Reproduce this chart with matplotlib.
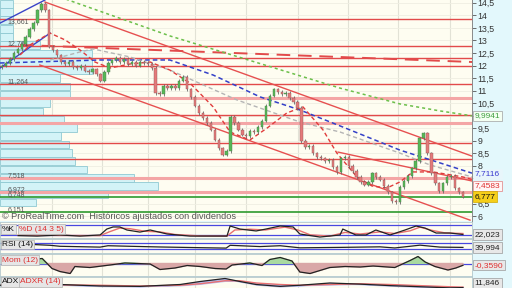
import matplotlib
matplotlib.use("Agg")
import matplotlib.pyplot as plt
import numpy as np

plt.rcParams['font.family'] = ['Liberation Sans', 'DejaVu Sans']

# daily closes (one per session, oldest first)
closes = [12.0, 12.1, 12.25, 12.5, 12.65, 12.85, 13.15, 13.45, 13.7, 14.2,
          14.45, 14.2, 12.75, 12.6, 12.4, 12.15, 12.05, 12.15, 11.95, 11.9,
          12.0, 11.8, 11.75, 11.85, 11.65, 11.4, 11.75, 12.1, 12.2, 12.3,
          12.15, 12.25, 12.05, 12.15, 12.0, 12.15, 12.1, 12.05, 11.9, 10.9,
          10.85, 11.2, 11.1, 11.2, 11.1, 11.4, 11.55, 11.05, 10.75, 10.4,
          10.1, 9.9, 9.7, 9.45, 9.05, 8.7, 8.45, 8.6, 9.95, 9.7,
          9.45, 9.25, 9.2, 9.4, 9.35, 9.55, 9.8, 10.4, 10.8, 11.05,
          10.95, 10.85, 10.9, 10.7, 10.55, 10.3, 9.0, 8.75, 8.8, 8.5,
          8.35, 8.3, 8.2, 8.25, 7.95, 7.75, 8.3, 8.35, 8.0, 7.8,
          7.55, 7.35, 7.25, 7.35, 7.7, 7.55, 7.45, 7.2, 6.95, 6.6,
          6.55, 7.15, 7.4, 7.6, 7.9, 8.2, 9.1, 9.3, 8.5, 7.7,
          7.3, 7.0, 7.3, 7.55, 7.6, 7.1, 6.95, 6.777]
first_open = 11.95
last_price = 6.777

# month separators (session index)
grid_days = [12.7, 25.4, 37.1, 49.0, 61.9, 75.1, 87.8, 100.5, 113.7]

# volume by price
vp_prices = [14.45, 14.13, 13.8, 13.47, 13.14, 12.81, 12.48, 12.15, 11.82, 11.49,
             11.16, 10.83, 10.5, 10.17, 9.84, 9.51, 9.18, 8.85, 8.52, 8.19,
             7.86, 7.53, 7.2, 6.87, 6.54]
vp_volume = [13, 13, 13, 13, 13, 40, 92, 92, 92, 60,
             70, 70, 50, 43, 64, 77, 61, 69, 72, 75,
             87, 134, 158, 108, 36]

# support / resistance levels
red_levels = [13.84, 12.761, 12.29, 12.0, 11.264, 10.03, 8.92, 8.26]
pink_levels = [10.72, 9.70, 7.518, 6.972]
green_levels = [6.748, 6.151]
level_labels = [("13,661", 13.661), ("12,761", 12.761), ("11,264", 11.264),
                ("7,518", 7.518), ("6,972", 6.972), ("6,748", 6.748), ("6,151", 6.151)]

# trend lines (day, price) pairs
red_trends = [([10.9, 119.3], [14.53, 8.39]),
              ([9.6, 118.8], [12.02, 5.84]),
              ([85.3, 119.3], [8.55, 7.40])]
blue_trends = [([-0.5, 10.9], [13.69, 14.61]),
               ([-0.5, 12.2], [11.90, 13.29])]
long_dash_days = [4.6, 119.3]
long_dash_vals = [12.82, 12.14]

# moving averages
ma_green_days = [12.2, 16.8, 42.6, 64.2, 85.8, 101.0, 111.2, 119.3]
ma_green = [14.93, 14.61, 13.18, 12.14, 11.10, 10.47, 10.19, 9.9941]
ma_blue_days = [-0.5, 24.9, 42.6, 53.6, 65.5, 75.6, 86.5, 101.0, 119.3]
ma_blue = [12.10, 12.22, 12.22, 11.62, 10.75, 10.23, 9.55, 8.63, 7.7116]
ma_gray_days = [12.2, 19.8, 23.1, 32.5, 42.6, 59.6, 75.6, 85.8, 101.0, 108.6, 119.3]
ma_gray = [12.22, 12.54, 12.66, 12.34, 11.82, 10.63, 9.75, 9.35, 8.51, 8.04, 7.56]
ma_red_days = [4.6, 7.1, 12.2, 16.0, 19.8, 23.6, 27.4, 32.5, 37.6, 42.6, 47.7, 53.6,
               57.9, 62.9, 67.3, 72.3, 76.4, 81.5, 85.0, 90.1, 93.9, 97.7, 101.0,
               104.3, 109.4, 117.0, 119.3]
ma_red = [12.42, 12.82, 13.29, 13.02, 12.62, 12.14, 11.90, 12.06, 12.14, 11.82, 11.30,
          10.35, 9.35, 9.03, 9.51, 10.11, 10.35, 9.43, 8.51, 7.56, 7.20, 7.12, 7.36,
          7.76, 7.76, 7.56, 7.4583]

# stochastic %K / %D (14 3 5)
stk_days = [4.1, 8.9, 14.7, 19.8, 24.9, 26.6, 28.2, 29.9, 31.7, 35.0, 37.6, 41.9,
            47.7, 52.8, 57.1, 57.9, 60.4, 64.5, 67.0, 70.6, 73.9, 75.6, 80.7, 85.8,
            86.5, 89.8, 92.4, 94.9, 98.5, 102.3, 105.1, 107.4, 110.2, 113.7, 117.0]
stk_k = [15, 12, 19, 12, 19, 56, 69, 69, 50, 37, 50, 25, 12, 12, 12, 75, 56, 44,
         56, 75, 69, 25, 6, 19, 56, 19, 19, 50, 19, 50, 75, 62, 31, 31, 22.023]
std_days = [4.1, 14.7, 24.9, 27.4, 29.9, 32.5, 36.3, 40.1, 43.9, 50.3, 57.1, 59.1,
            62.9, 66.8, 71.8, 75.1, 78.2, 83.2, 87.1, 90.9, 95.9, 99.7, 103.6,
            106.1, 109.1, 112.4, 117.0]
std_d = [18, 16, 15, 40, 62, 58, 42, 38, 22, 13, 12, 50, 55, 50, 68, 50, 20, 12,
         35, 25, 38, 28, 45, 68, 48, 32, 28]

# RSI (14)
rsi_days = [8.4, 12.2, 14.7, 24.9, 26.9, 32.5, 40.1, 50.3, 56.9, 57.9, 65.5, 70.6,
            75.6, 85.8, 95.9, 99.7, 106.1, 111.2, 117.0]
rsi = [60, 55, 48, 42, 52, 48, 43, 38, 35, 55, 46, 52, 37, 40, 44, 36, 56, 42, 39.994]

# Momentum (12)
mom_days = [8.9, 10.2, 11.2, 12.7, 14.7, 17.3, 18.5, 22.3, 27.4, 31.2, 37.6, 40.1,
            43.9, 47.0, 50.3, 54.1, 56.9, 58.4, 62.9, 66.0, 68.0, 70.6, 73.6, 75.6,
            78.2, 83.2, 87.1, 90.9, 94.2, 99.7, 103.6, 105.6, 107.4, 109.9, 113.2,
            115.2, 117.0]
mom = [0.9, 1.0, 0.2, -1.0, -1.6, -2.0, -0.6, -0.8, -0.3, 0.1, -0.1, -1.2, -0.9,
       -0.4, -0.6, -1.0, -1.1, -0.3, 0.1, -0.4, 0.8, 1.2, 0.5, -1.7, -2.0, -0.8,
       -0.6, -0.7, -0.5, -0.8, 0.6, 1.4, 0.3, -0.6, -1.3, -0.9, -0.359]

# ADX / ADXR (14)
adx_days = [-0.5, 14.7, 24.9, 35.0, 45.2, 50.3, 56.6, 60.4, 64.5, 70.6, 75.6, 83.2,
            90.9, 98.5, 106.1, 113.7, 117.0]
adx = [18, 20, 16, 15, 20, 28, 36, 28, 20, 15, 18, 24, 21, 17, 14, 11, 11.846]
adxr = [20, 19, 18, 16, 18, 22, 30, 30, 24, 20, 18, 20, 22, 20, 17, 14, 13]

BG = '#fefdf1'
XL = (-0.51, 119.3)
AXW = 472.0


def fmt(v, nd):
    return f"{v:.{nd}f}".replace('.', ',')


def panel_box(ax, y, parts):
    # parts: (text, colour, left edge in pixels)
    for txt, col, px in parts:
        ax.text(px / AXW, y, txt, transform=ax.transAxes, fontsize=6, color=col,
                va='center', ha='left', zorder=10,
                bbox=dict(boxstyle='square,pad=0.15', fc='#e6e6e6', ec='#b0b0b0', lw=0.5))


def value_box(ax, v, txt, col, fc='#e8e8e8', ec='#9a9a9a'):
    ax.text(1.006, v, txt, transform=ax.get_yaxis_transform(), fontsize=6, color=col,
            va='center', ha='left', zorder=10,
            bbox=dict(boxstyle='square,pad=0.2', fc=fc, ec=ec, lw=0.5))


def main_panel(ax):
    ax.set_facecolor(BG)
    for d in grid_days:
        ax.axvline(d, color='#e2e2d6', lw=0.8, zorder=0)
    for p in np.arange(6.0, 14.51, 0.5):
        ax.axhline(p, color='#efeee2', lw=0.6, zorder=0)

    # volume profile
    w = np.array(vp_volume) / max(vp_volume) * 40.1
    ax.barh(vp_prices, w, height=0.31, left=XL[0], color='#d3f3f7',
            edgecolor='#8fc9d2', lw=0.6, zorder=1)

    for p in red_levels:
        ax.axhline(p, color='#e24a4a', lw=1.0, zorder=2)
    for p in pink_levels:
        ax.axhline(p, color='#f4a6a6', lw=2.2, zorder=2)
    for p in green_levels:
        ax.axhline(p, color='#2e9a2e', lw=1.2, zorder=2)
    for txt, p in level_labels:
        ax.text(1.5, p + 0.1, txt, fontsize=5, color='#555555', ha='left', va='center', zorder=6)

    for xs, ys in red_trends:
        ax.plot(xs, ys, color='#e65050', lw=1.0, zorder=3)
    for xs, ys in blue_trends:
        ax.plot(xs, ys, color='#3a44c8', lw=1.0, zorder=3)
    ax.plot(long_dash_days, long_dash_vals, color='#e24a4a', lw=1.4, ls=(0, (7, 4)), zorder=3)

    ax.plot(ma_green_days, ma_green, color='#6cbf4a', lw=1.1, ls=(0, (2, 2)), zorder=4)
    ax.plot(ma_blue_days, ma_blue, color='#3340c8', lw=1.1, ls=(0, (3, 2)), zorder=4)
    ax.plot(ma_gray_days, ma_gray, color='#b4b4b4', lw=1.0, ls=(0, (3, 2)), zorder=4)
    ax.plot(ma_red_days, ma_red, color='#e03c3c', lw=1.0, ls=(0, (3, 2)), zorder=4)

    # candles
    c = np.array(closes)
    o = np.concatenate([[first_open], c[:-1]])
    x = np.arange(len(c))
    up = c >= o
    lo = np.minimum(o, c)
    hi = np.maximum(o, c)
    ax.vlines(x, lo - 0.07, hi + 0.07, color='#6a6a6a', lw=0.6, zorder=5)
    ax.bar(x[up], np.maximum(hi - lo, 0.03)[up], bottom=lo[up], width=0.6,
           color='#57b857', edgecolor='#4a7a4a', lw=0.3, zorder=6)
    ax.bar(x[~up], np.maximum(hi - lo, 0.03)[~up], bottom=lo[~up], width=0.6,
           color='#e57a7a', edgecolor='#8a5a5a', lw=0.3, zorder=6)

    ax.set_xlim(*XL)
    ax.set_ylim(5.805, 14.61)
    ax.set_xticks([])
    ticks = np.arange(6.0, 14.51, 0.5)
    ax.set_yticks(ticks)
    labels = []
    for t in ticks:
        if t in (7.0, 7.5, 10.0):
            labels.append('')
        else:
            labels.append(fmt(t, 1).replace(',0', ''))
    ax.set_yticklabels(labels)
    ax.yaxis.tick_right()
    ax.tick_params(axis='y', length=3, width=0.6, color='#555555', labelsize=6.3,
                   labelcolor='#333333', pad=1)
    for s in ('top', 'left', 'bottom'):
        ax.spines[s].set_visible(False)
    ax.spines['right'].set_color('#8a8a8a')
    ax.spines['right'].set_linewidth(0.7)

    ax.text(0.004, 0.0, '\u00a9 ProRealTime.com  Históricos ajustados con dividendos',
            transform=ax.transAxes, fontsize=6.6, color='#555555', ha='left', va='bottom', zorder=8)

    value_box(ax, 9.9941, '9,9941', '#3f9f3f', fc='#f4fff2', ec='#a0a0a0')
    value_box(ax, 7.69, '7,7116', '#3a3ad0', fc='#e8f6fb', ec='#e8f6fb')
    value_box(ax, 7.2, '7,4583', '#e03030', fc='#fff6f6', ec='#e08080')
    value_box(ax, last_price, '6,777', '#111111', fc='#f5cf1a', ec='#d0a800')


def sub_panel(ax, ylim):
    ax.set_facecolor(BG)
    for d in grid_days:
        ax.axvline(d, color='#e2e2d6', lw=0.8, zorder=0)
    ax.set_xlim(*XL)
    ax.set_ylim(*ylim)
    ax.set_xticks([])
    ax.set_yticks([])
    for s in ax.spines.values():
        s.set_color('#b4c8cc')
        s.set_linewidth(0.6)


def main():
    fig = plt.figure(figsize=(5.12, 2.88), dpi=100, facecolor='#e3f8fc')
    W = AXW / 512

    ax = fig.add_axes([0, 1 - 221 / 288, W, 221 / 288])
    main_panel(ax)

    # stochastic
    a1 = fig.add_axes([0, 1 - 238 / 288, W, 16 / 288])
    sub_panel(a1, (0, 100))
    for lv in (20, 80):
        a1.axhline(lv, color='#4848e0', lw=0.9, zorder=1)
    a1.plot(std_days, std_d, color='#e87070', lw=1.0, zorder=2)
    a1.plot(stk_days, stk_k, color='#222222', lw=0.9, zorder=3)
    panel_box(a1, 0.55, [('%K', '#111111', 2), ('%D (14 3 5)', '#e03030', 19)])
    value_box(a1, 22.023, '22,023', '#222222')

    # RSI
    a2 = fig.add_axes([0, 1 - 253 / 288, W, 14 / 288])
    sub_panel(a2, (0, 100))
    for lv in (30, 70):
        a2.axhline(lv, color='#4848e0', lw=0.9, zorder=1)
    a2.plot(rsi_days, rsi, color='#222222', lw=0.9, zorder=3)
    panel_box(a2, 0.6, [('RSI (14)', '#111111', 2)])
    value_box(a2, 39.994, '39,994', '#222222')

    # Momentum
    a3 = fig.add_axes([0, 1 - 276 / 288, W, 22 / 288])
    sub_panel(a3, (-2.5, 1.9))
    a3.axhline(0, color='#4848e0', lw=0.9, zorder=1)
    md = np.array(mom_days)
    mv = np.array(mom)
    a3.fill_between(md, mv, 0, where=mv >= 0, interpolate=True, color='#a9d9a0', zorder=1)
    a3.fill_between(md, mv, 0, where=mv < 0, interpolate=True, color='#d9a7a7', zorder=1)
    a3.plot(md, mv, color='#222222', lw=0.9, zorder=3)
    panel_box(a3, 0.72, [('Mom (12)', '#e03030', 2)])
    value_box(a3, -0.359, '-0,3590', '#e03030')

    # ADX
    a4 = fig.add_axes([0, 1 - 292 / 288, W, 15 / 288])
    sub_panel(a4, (0, 40))
    a4.fill_between(adx_days, adx, adxr, color='#b9bff0', zorder=1)
    a4.plot(adx_days, adxr, color='#e87070', lw=1.0, zorder=2)
    a4.plot(adx_days, adx, color='#222222', lw=0.9, zorder=3)
    panel_box(a4, 0.68, [('ADX', '#111111', 2), ('ADXR (14)', '#e03030', 20)])
    a4.text(1.006, 0.6, '11,846', transform=a4.transAxes, fontsize=6, color='#222222',
            va='center', ha='left', zorder=10,
            bbox=dict(boxstyle='square,pad=0.2', fc='#e8e8e8', ec='#9a9a9a', lw=0.5))

    fig.savefig('out.png', dpi=100, facecolor=fig.get_facecolor())


if __name__ == '__main__':
    main()
